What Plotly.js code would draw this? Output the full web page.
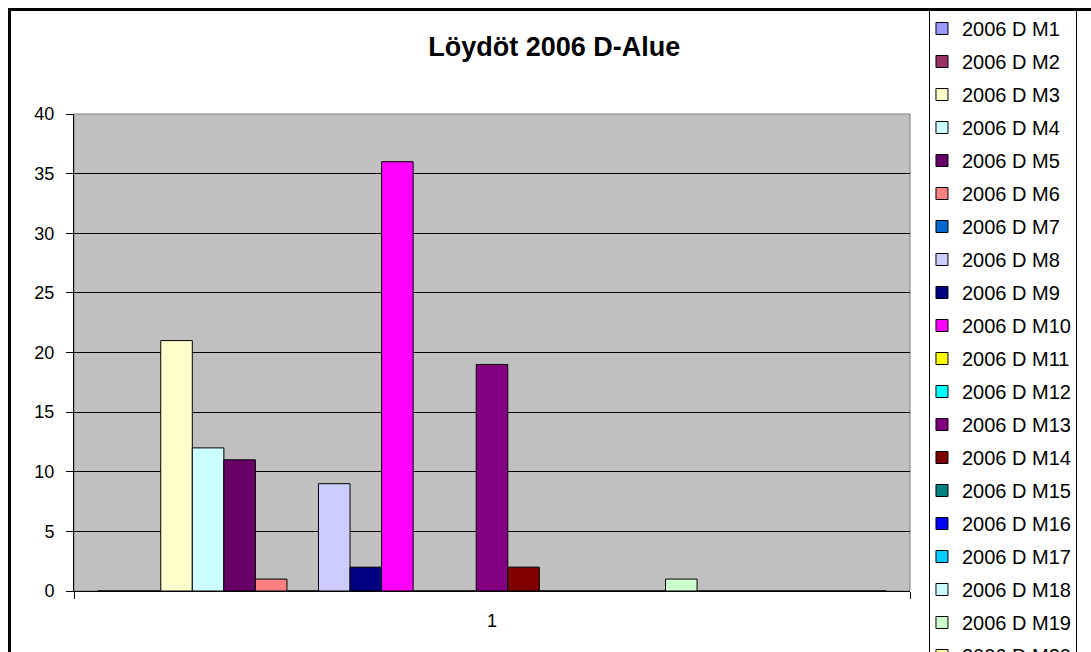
<!DOCTYPE html>
<html><head><meta charset="utf-8">
<script src="https://cdn.plot.ly/plotly-3.0.1.min.js"></script>
<style>
html,body{margin:0;padding:0;background:#fff;overflow:hidden}
#chart{width:1091px;height:652px;position:absolute;left:0;top:0}
#frame{position:absolute;left:8px;top:8px;width:3000px;height:3000px;border-left:3px solid #000;border-top:3px solid #000;pointer-events:none}
</style></head><body>
<div id="chart"></div><div id="frame"></div>
<script>
const categories = ['1'];
const seriesNames = [
  '2006 D M1','2006 D M2','2006 D M3','2006 D M4','2006 D M5',
  '2006 D M6','2006 D M7','2006 D M8','2006 D M9','2006 D M10',
  '2006 D M11','2006 D M12','2006 D M13','2006 D M14','2006 D M15',
  '2006 D M16','2006 D M17','2006 D M18','2006 D M19','2006 D M20',
  '2006 D M21','2006 D M22','2006 D M23','2006 D M24','2006 D M25'
];
const seriesValues = [0,0,21,12,11,1,0,9,2,36,0,0,19,2,0,0,0,0,1,0,0,0,0,0,0];
const seriesColors = [
  '#9999FF','#993366','#FFFFCC','#CCFFFF','#660066',
  '#FF8080','#0066CC','#CCCCFF','#000080','#FF00FF',
  '#FFFF00','#00FFFF','#800080','#800000','#008080',
  '#0000FF','#00CCFF','#CCFFFF','#CCFFCC','#FFFF99',
  '#99CCFF','#FF99CC','#CC99FF','#FFCC99','#3366FF'
];
const legendCount = 20;  // entries that fit the visible legend box
const yTickValues = [0,5,10,15,20,25,30,35,40];
const chartTitle = 'Löydöt 2006 D-Alue';

const traces = seriesNames.map((name, i) => ({
  type: 'bar',
  name: name,
  x: categories,
  y: [seriesValues[i]],
  legendgroup: 'g' + i,
  showlegend: i < legendCount,
  marker: {color: seriesColors[i], line: {color: '#000', width: 1}},
  hoverinfo: 'skip'
}));

const layout = {
  width: 1091, height: 652,
  margin: {l: 74, r: 181, t: 114, b: 61, autoexpand: false},
  paper_bgcolor: '#fff',
  plot_bgcolor: '#C0C0C0',
  barmode: 'group', bargap: 0.0566, bargroupgap: 0,
  font: {family: 'Liberation Sans, Arial, sans-serif', color: '#000'},
  title: {
    text: chartTitle,
    font: {size: 27, weight: 'bold', family: 'Liberation Sans, Arial, sans-serif', color: '#000'},
    xref: 'container', yref: 'container',
    x: 0.508, xanchor: 'center', y: 0.928, yanchor: 'middle'
  },
  xaxis: {
    type: 'category', showline: true, linecolor: '#000', linewidth: 1,
    ticks: 'outside', tickson: 'boundaries', ticklen: 7, tickcolor: '#000',
    tickfont: {size: 18}, showgrid: false, zeroline: false, ticklabelstandoff: 13
  },
  yaxis: {
    range: [0, 40], tickvals: yTickValues, ticktext: yTickValues.map(String),
    showline: true, linecolor: '#000', linewidth: 1,
    ticks: 'outside', ticklen: 7, tickcolor: '#000',
    showgrid: true, gridcolor: '#000', gridwidth: 1, zeroline: false,
    tickfont: {size: 18}, ticklabelstandoff: 8
  },
  shapes: [{
    type: 'rect', xref: 'x domain', yref: 'y domain', x0: 0, x1: 1, y0: 0, y1: 1,
    line: {color: '#808080', width: 1}, fillcolor: 'rgba(0,0,0,0)', layer: 'below'
  }],
  legend: {
    x: 1.0227, xanchor: 'left', y: 1.2222, yanchor: 'top',
    bgcolor: '#fff', bordercolor: '#000', borderwidth: 1,
    font: {size: 20}, traceorder: 'grouped', tracegroupgap: 4,
    indentation: -8, maxheight: 2000
  }
};

Plotly.newPlot('chart', traces, layout, {displayModeBar: false, staticPlot: true});
</script>
</body></html>
